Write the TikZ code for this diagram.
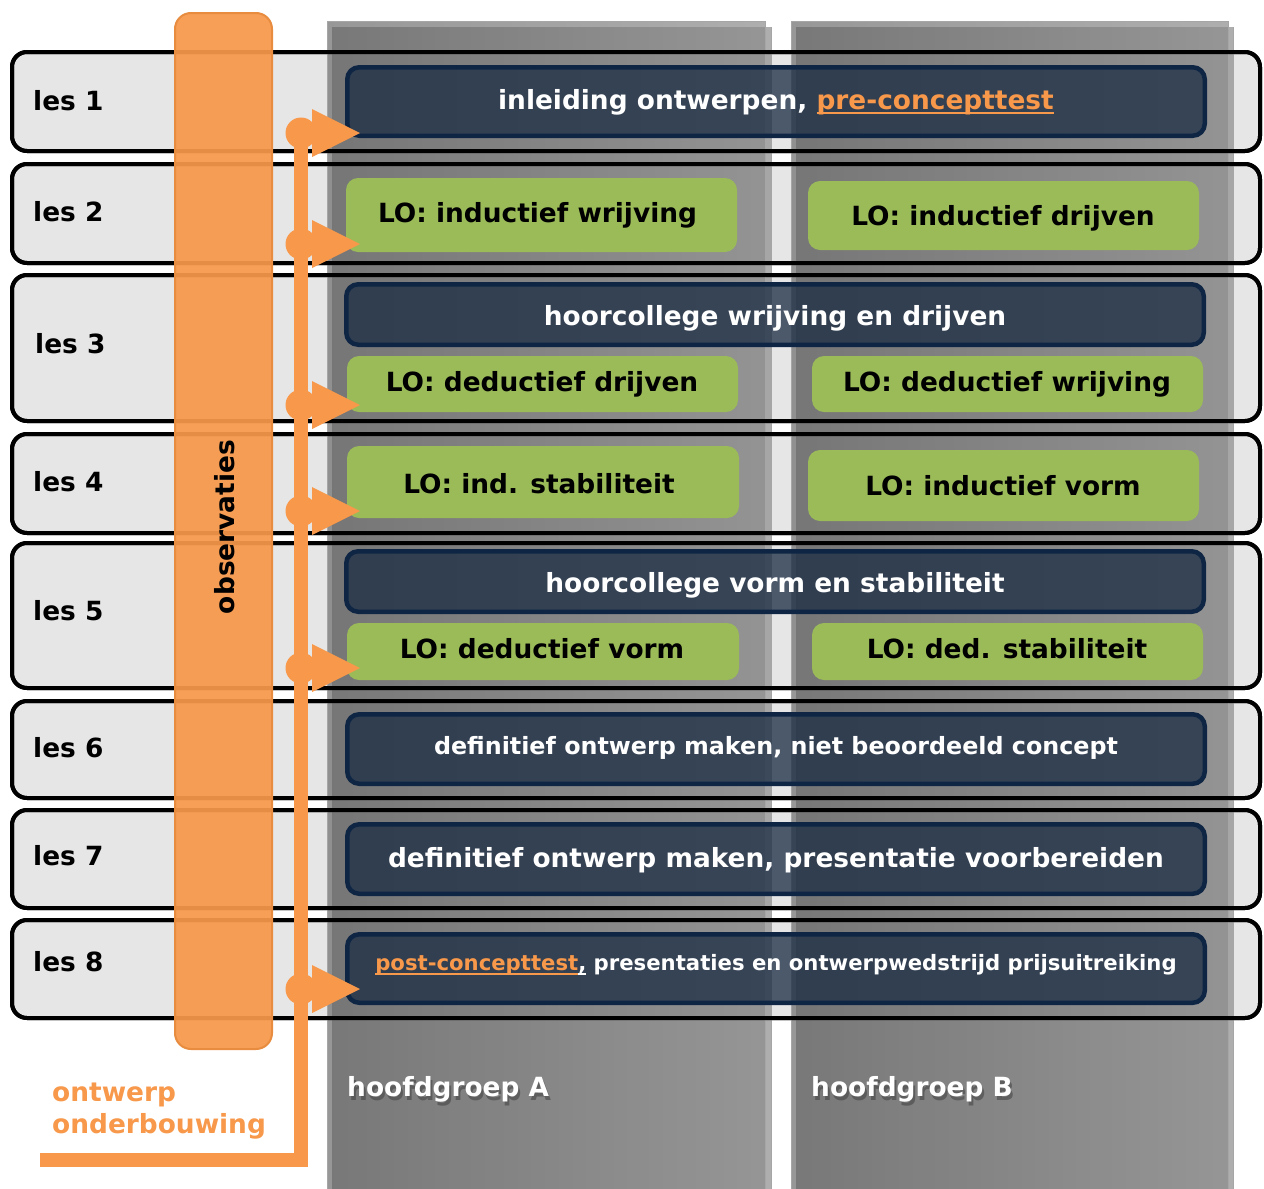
\documentclass[tikz,border=0pt]{standalone}
\usepackage{fontspec}
\setmainfont{DejaVu Sans}
\newcommand{\myul}[1]{\setbox0\hbox{#1}\rlap{\rule[-5pt]{\wd0}{2pt}}\box0\relax}
\definecolor{ora}{RGB}{247,152,74}
\definecolor{oradk}{RGB}{232,140,64}
\definecolor{rowfill}{RGB}{230,230,230}
\definecolor{colL}{RGB}{108,108,108}
\definecolor{colR}{RGB}{140,140,140}
\definecolor{navyf}{RGB}{25,43,67}
\definecolor{navyb}{RGB}{14,38,68}
\definecolor{greenf}{RGB}{155,187,89}
\tikzset{
  lesrow/.style={draw=black, line width=4pt, fill=rowfill, rounded corners=15pt, inner sep=0pt, outer sep=0pt},
  rowborder/.style={draw=black, line width=4pt, rounded corners=15pt},
  colbox/.style={left color=colL, right color=colR, opacity=0.7},
  coledge/.style={draw=black!35, line width=1pt},
  darkbox/.style={draw=navyb, line width=4.5pt, fill=navyf, fill opacity=0.75, rounded corners=12pt, inner sep=0pt},
  greenbox/.style={fill=greenf, rounded corners=12pt, inner sep=0pt},
  obsbar/.style={draw=oradk, line width=2pt, fill=ora, fill opacity=0.93, rounded corners=16pt, inner sep=0pt},
  txt/.style={font=\fontsize{26.4}{30}\selectfont\bfseries, inner sep=0pt, anchor=base},
  wtxt/.style={txt, text=white},
  btxt/.style={txt, text=black},
  lestxt/.style={txt, text=black, anchor=base west},
  flowline/.style={draw=ora, line width=14pt, line join=miter},
}
\begin{document}
\begin{tikzpicture}[x=1pt,y=-1pt]
\useasboundingbox (0,0) rectangle (1264,1189);
\fill[white] (0,0) rectangle (1264,1189);
% rows
\node[lesrow, minimum width=1248, minimum height=99]  (r1) at (636,101.5) {};
\node[lesrow, minimum width=1248, minimum height=99]  (r2) at (636,213.5) {};
\node[lesrow, minimum width=1248, minimum height=146] (r3) at (636,348) {};
\node[lesrow, minimum width=1248, minimum height=99]  (r4) at (636,483.5) {};
\node[lesrow, minimum width=1248, minimum height=145] (r5) at (636,615.5) {};
\node[lesrow, minimum width=1248, minimum height=97]  (r6) at (636,749.5) {};
\node[lesrow, minimum width=1248, minimum height=98]  (r7) at (636,859) {};
\node[lesrow, minimum width=1248, minimum height=98]  (r8) at (636,969) {};
% columns
\shade[colbox] (327,21) rectangle (765,1189);
\shade[colbox] (332,27) rectangle (771,1189);
\draw[coledge] (327,1189) -- (327,21) -- (765,21) -- (765,1189);
\draw[coledge] (771,27) -- (771,1189);
\shade[colbox] (791,21) rectangle (1228,1189);
\shade[colbox] (796,27) rectangle (1233,1189);
\draw[coledge] (791,1189) -- (791,21) -- (1228,21) -- (1228,1189);
\draw[coledge] (1233,27) -- (1233,1189);
% row borders stay black over the columns
\foreach \r in {r1,r2,r3,r4,r5,r6,r7,r8}{
  \draw[rowborder] (\r.north west) rectangle (\r.south east);
}
% observaties bar
\node[obsbar, minimum width=97, minimum height=1036] (obs) at (223.5,531) {};
\node[btxt, rotate=90, anchor=center] (obst) at (225,527) {observaties};
% row labels
\node[lestxt] (l1) at (33,110) {les 1};
\node[lestxt] (l2) at (33,221) {les 2};
\node[lestxt] (l3) at (35,353) {les 3};
\node[lestxt] (l4) at (33,491) {les 4};
\node[lestxt] (l5) at (33,620) {les 5};
\node[lestxt] (l6) at (33,757) {les 6};
\node[lestxt] (l7) at (33,865) {les 7};
\node[lestxt] (l8) at (33,971) {les 8};
% boxes
\node[darkbox, minimum width=857.5, minimum height=68.5] (b1) at (776,101.5) {};
\node[greenbox, minimum width=391, minimum height=74] (g2a) at (541.5,215) {};
\node[greenbox, minimum width=391, minimum height=69] (g2b) at (1003.5,215.5) {};
\node[darkbox, minimum width=857.5, minimum height=60.5] (b3) at (775,314.5) {};
\node[greenbox, minimum width=391, minimum height=56] (g3a) at (542.5,384) {};
\node[greenbox, minimum width=391, minimum height=56] (g3b) at (1007.5,384) {};
\node[greenbox, minimum width=392, minimum height=72] (g4a) at (543,482) {};
\node[greenbox, minimum width=391, minimum height=71] (g4b) at (1003.5,485.5) {};
\node[darkbox, minimum width=857.5, minimum height=60.5] (b5) at (775,581.5) {};
\node[greenbox, minimum width=392, minimum height=57] (g5a) at (543,651.5) {};
\node[greenbox, minimum width=391, minimum height=57] (g5b) at (1007.5,651.5) {};
\node[darkbox, minimum width=857.5, minimum height=69.5] (b6) at (776,749) {};
\node[darkbox, minimum width=857.5, minimum height=69.5] (b7) at (776,859) {};
\node[darkbox, minimum width=857.5, minimum height=68.5] (b8) at (776,968.5) {};
% box texts
\node[wtxt] (t1) at (776,109) {inleiding ontwerpen, \textcolor{ora}{\myul{pre-concepttest}}};
\node[btxt] (t2a) at (537.5,222) {LO: inductief wrijving};
\node[btxt] (t2b) at (1003,225) {LO: inductief drijven};
\node[wtxt] (t3) at (775,325) {hoorcollege wrijving en drijven};
\node[btxt] (t3a) at (542,391) {LO: deductief drijven};
\node[btxt] (t3b) at (1007,391) {LO: deductief wrijving};
\node[btxt] (t4a) at (539,493) {LO: ind. stabiliteit};
\node[btxt] (t4b) at (1003,495) {LO: inductief vorm};
\node[wtxt] (t5) at (775,592) {hoorcollege vorm en stabiliteit};
\node[btxt] (t5a) at (542,658) {LO: deductief vorm};
\node[btxt] (t5b) at (1007,658) {LO: ded. stabiliteit};
\node[wtxt, font=\fontsize{23.8}{28}\selectfont\bfseries] (t6) at (776,754) {definitief ontwerp maken, niet beoordeeld concept};
\node[wtxt] (t7) at (776,867) {definitief ontwerp maken, presentatie voorbereiden};
\node[wtxt, font=\fontsize{21.2}{25}\selectfont\bfseries] (t8) at (776,970) {\textcolor{ora}{\myul{post-concepttest}}\myul{,} presentaties en ontwerpwedstrijd prijsuitreiking};
% group labels
\node[txt, anchor=base west, text=black!75, opacity=0.55] (hAs) at (349,1100) {hoofdgroep A};
\node[wtxt, anchor=base west] (hA) at (347,1096) {hoofdgroep A};
\node[txt, anchor=base west, text=black!75, opacity=0.55] (hBs) at (813,1100) {hoofdgroep B};
\node[wtxt, anchor=base west] (hB) at (811,1096) {hoofdgroep B};
% flow
\coordinate (p1) at (301,133);
\coordinate (p2) at (301,244);
\coordinate (p3) at (301,405);
\coordinate (p4) at (301,511);
\coordinate (p5) at (301,668);
\coordinate (p8) at (301,989);
\coordinate (pc) at (301,1160);
\coordinate (pe) at (40,1160);
\draw[flowline] (p1) -- (pc) -- (pe);
\foreach \p in {p1,p2,p3,p4,p5,p8}{
  \fill[ora] (\p) circle (15.5);
  \fill[ora, shift={(\p)}] (11,-24) -- (59,0) -- (11,24) -- cycle;
}
\node[txt, anchor=base west, text=ora] (ow1) at (52,1101) {ontwerp};
\node[txt, anchor=base west, text=ora] (ow2) at (52,1133) {onderbouwing};
\end{tikzpicture}
\end{document}
